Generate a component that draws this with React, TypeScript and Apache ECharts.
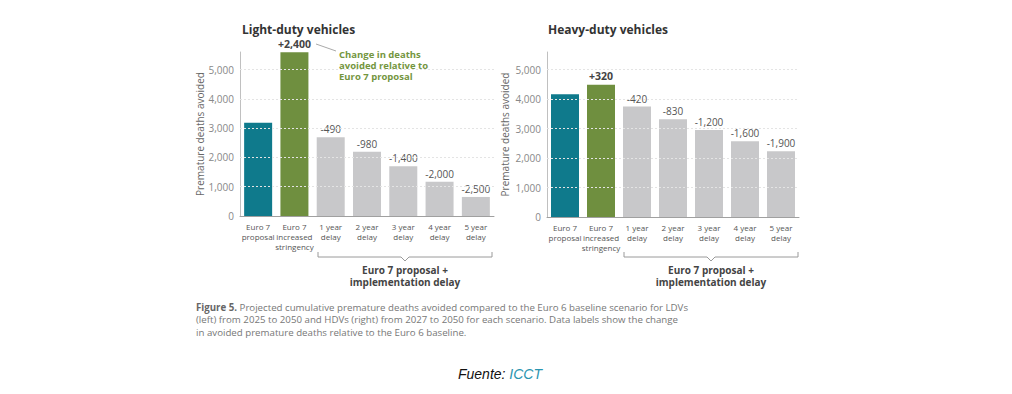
import React, { useEffect, useRef } from "react";
import * as echarts from "echarts";

const categories = [
  "Euro 7\nproposal",
  "Euro 7\nincreased\nstringency",
  "1 year\ndelay",
  "2 year\ndelay",
  "3 year\ndelay",
  "4 year\ndelay",
  "5 year\ndelay",
];
const ldvValues = [3180, 5590, 2690, 2190, 1700, 1170, 650];
const hdvValues = [4170, 4490, 3750, 3320, 2950, 2570, 2230];
const ldvChange = ["", "+2,400", "-490", "-980", "-1,400", "-2,000", "-2,500"];
const hdvChange = ["", "+320", "-420", "-830", "-1,200", "-1,600", "-1,900"];
const gridValues = [1000, 2000, 3000, 4000, 5000];
const barColors = ["#0f7a8c", "#6f8f3f", "#c8c8ca", "#c8c8ca", "#c8c8ca", "#c8c8ca", "#c8c8ca"];

const FONT = "'Open Sans', 'DejaVu Sans', sans-serif";

function fmt(v: number) {
  return v.toLocaleString("en-US");
}

function makeSeries(values: number[], changes: string[], idx: number) {
  return {
    type: "bar",
    xAxisIndex: idx,
    yAxisIndex: idx,
    barWidth: 28,
    data: values.map((v, i) => ({ value: v, itemStyle: { color: barColors[i] } })),
    label: {
      show: true,
      position: "top",
      distance: 3,
      fontFamily: FONT,
      formatter: (p: any) => {
        const c = changes[p.dataIndex];
        if (!c) return "";
        return c.startsWith("+") ? `{b|${c}}` : `{n|${c}}`;
      },
      rich: {
        b: { fontFamily: FONT, fontSize: 10.5, fontWeight: "bold", color: "#444" },
        n: { fontFamily: FONT, fontSize: 10, color: "#555" },
      },
    },
    markLine: {
      silent: true,
      symbol: "none",
      label: { show: false },
      lineStyle: { color: "#e4e4e4", type: [2, 2], width: 1 },
      data: gridValues.map((g) => ({ yAxis: g })),
    },
  };
}

function bracket(x1: number, x2: number, y: number) {
  const cx = (x1 + x2) / 2;
  return {
    type: "polyline",
    shape: {
      points: [
        [x1, y - 5],
        [x1, y],
        [cx - 4, y],
        [cx, y + 4],
        [cx + 4, y],
        [x2, y],
        [x2, y - 5],
      ],
    },
    style: { stroke: "#9a9a9a", lineWidth: 1, fill: "none" },
  };
}

function bracketText(cx: number) {
  return {
    type: "text",
    x: cx,
    y: 264,
    style: {
      text: "Euro 7 proposal +\nimplementation delay",
      fontFamily: FONT,
      fontSize: 10,
      fontWeight: "bold",
      fill: "#444",
      align: "center",
      verticalAlign: "top",
      lineHeight: 12,
    },
  };
}

export default function App() {
  const ref = useRef<HTMLDivElement>(null);
  useEffect(() => {
    document.body.style.margin = "0";
    const chart = echarts.init(ref.current!, null, { renderer: "svg" });
    const xAxisBase = {
      type: "category",
      data: categories,
      axisLine: { lineStyle: { color: "#a0a0a0" } },
      axisTick: { show: false },
      axisLabel: {
        interval: 0,
        fontFamily: FONT,
        fontSize: 8,
        color: "#555",
        lineHeight: 10,
        margin: 5,
      },
    };
    const yAxisBase = {
      type: "value",
      min: 0,
      max: 5600,
      interval: 1000,
      name: "Premature deaths avoided",
      nameLocation: "middle",
      nameRotate: 90,
      nameTextStyle: { fontFamily: FONT, fontSize: 10, color: "#666" },
      axisLine: { show: true, lineStyle: { color: "#c0c0c0" } },
      axisTick: { show: false },
      splitLine: { show: false },
      axisLabel: {
        fontFamily: FONT,
        fontSize: 10,
        color: "#888",
        margin: 6,
        formatter: (v: number) => (v % 1000 === 0 ? fmt(v) : ""),
      },
    };
    chart.setOption({
      animation: false,
      grid: [
        { left: 240, top: 52, width: 254, height: 164 },
        { left: 547, top: 52, width: 252, height: 165 },
      ],
      xAxis: [
        { ...xAxisBase, gridIndex: 0 },
        { ...xAxisBase, gridIndex: 1 },
      ],
      yAxis: [
        { ...yAxisBase, gridIndex: 0, nameGap: 35 },
        { ...yAxisBase, gridIndex: 1, nameGap: 37 },
      ],
      series: [makeSeries(ldvValues, ldvChange, 0), makeSeries(hdvValues, hdvChange, 1)],
      graphic: [
        {
          type: "text",
          x: 242,
          y: 29,
          style: {
            text: "Light-duty vehicles",
            fontFamily: FONT,
            fontSize: 12,
            fontWeight: "bold",
            fill: "#333",
            verticalAlign: "middle",
          },
        },
        {
          type: "text",
          x: 548,
          y: 29,
          style: {
            text: "Heavy-duty vehicles",
            fontFamily: FONT,
            fontSize: 12,
            fontWeight: "bold",
            fill: "#333",
            verticalAlign: "middle",
          },
        },
        {
          type: "line",
          shape: { x1: 316, y1: 44, x2: 336, y2: 51 },
          style: { stroke: "#aaa", lineWidth: 1 },
        },
        {
          type: "text",
          x: 339,
          y: 48.5,
          style: {
            text: "Change in deaths\navoided relative to\nEuro 7 proposal",
            fontFamily: FONT,
            fontSize: 9.5,
            fontWeight: "bold",
            fill: "#74963f",
            verticalAlign: "top",
            lineHeight: 11,
          },
        },
        bracket(318, 492, 257),
        bracketText(405),
        bracket(624, 798, 257),
        bracketText(711),
        {
          type: "text",
          x: 196,
          y: 301,
          style: {
            text:
              "{b|Figure 5.} Projected cumulative premature deaths avoided compared to the Euro 6 baseline scenario for LDVs\n(left) from 2025 to 2050 and HDVs (right) from 2027 to 2050 for each scenario. Data labels show the change\nin avoided premature deaths relative to the Euro 6 baseline.",
            fontFamily: FONT,
            fontSize: 9.7,
            fill: "#777",
            lineHeight: 12.5,
            verticalAlign: "top",
            rich: {
              b: { fontFamily: FONT, fontSize: 9.7, fontWeight: "bold", fill: "#666" },
            },
          },
        },
        {
          type: "text",
          x: 458,
          y: 374,
          style: {
            text: "{a|Fuente: }{c|ICCT}",
            verticalAlign: "middle",
            rich: {
              a: { fontFamily: "'Liberation Sans', Arial, sans-serif", fontSize: 14, fontStyle: "italic", fill: "#111" },
              c: { fontFamily: "'Liberation Sans', Arial, sans-serif", fontSize: 14, fontStyle: "italic", fill: "#2a95b0" },
            },
          },
        },
      ],
    });
    return () => chart.dispose();
  }, []);
  return <div ref={ref} style={{ width: 1012, height: 394, background: "#fff" }} />;
}
